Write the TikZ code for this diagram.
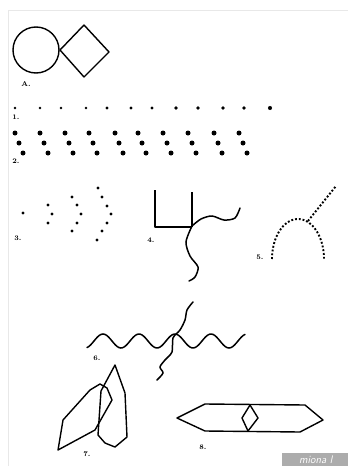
\documentclass[tikz,border=0pt]{standalone}
\usepackage{tikz}
\usetikzlibrary{positioning}

\begin{document}
\begin{tikzpicture}[
    x=1pt, y=-1pt,
    outline/.style={line width=1.4pt, line join=round},
    wavy/.style={line width=1.5pt, line cap=round, smooth},
    dotline/.style={line width=1.9pt, dash pattern=on 1.9pt off 1.9pt},
    tag/.style={font=\fontsize{7}{7}\selectfont\bfseries, inner sep=0pt},
    frame/.style={gray!18, line width=0.8pt},
]
\useasboundingbox (0,0) rectangle (348,466);

% Page edges
\draw[frame] (8,466) -- (8,10) -- (348,10);

% A: circle and diamond
\draw[outline] (36,50) circle (23);
\draw[outline] (60,50) -- (84,25) -- (109,52) -- (84,77) -- cycle;
\node[tag] (labA) at (26,84) {A.};

% 1: single row of dots
\foreach \px [count=\i] in {15,40,61,86,107,131,152,176,198,223,244,270}
  \fill (\px,108) circle ({1.2+0.07*\i});
\node[tag] (lab1) at (16,117) {1.};

% 2: slanted triples of dots
\foreach \px in {15,40,65,89,115,138,163,188,214,239} {
  \fill (\px,133) circle (2.5);
  \fill (\px+4,143) circle (2.5);
  \fill (\px+8,153) circle (2.5);
}
\node[tag] (lab2) at (16,161) {2.};

% 3: nested chevrons of dots
\foreach \pt in {(23,213), (48,205),(52,214),(48,223),
                 (72,197),(77,205),(81,214),(77,223),(72,231),
                 (98,188),(102,197),(107,206),(111,214),(107,223),(102,231),(97,240)}
  \fill \pt circle (1.7);
\node[tag] (lab3) at (18,238) {3.};

% 4: square corner with wavy lines
\draw[outline] (155,190) -- (155,227) -- (192,227);
\draw[outline] (192,192) -- (192,227);
\draw[wavy] plot coordinates {(192,226) (201,219) (212,216) (224,220) (235,218) (240,208)};
\draw[wavy] plot coordinates {(192,226) (186,242) (190,256) (198,267) (195,277) (189,281)};
\node[tag] (lab4) at (151,240) {4.};

% 5: dotted arch with branch
\draw[dotline] plot[smooth, domain=180:0, samples=40] ({298+26*cos(\x)}, {259-40*sin(\x)});
\draw[dotline] (308,221) -- (336,186);
\node[tag] (lab5) at (260,257) {5.};

% 6: crossing wavy lines
\draw[wavy] plot[domain=87:245, samples=90] (\x, {341-7*cos((\x-103)*10)});
\draw[wavy] plot coordinates {(193,302) (187,310) (185,320) (180,330) (173,338)
                              (172,352) (165,360) (160,367) (163,373) (157,380)};
\node[tag] (lab6) at (97,358) {6.};

% 7: overlapping polygons
\draw[outline] (58,450) -- (63,420) -- (90,390) -- (100,384) -- (107,388)
               -- (112,400) -- (95,430) -- cycle;
\draw[outline] (115,365) -- (125,393) -- (127,437) -- (115,447) -- (105,443)
               -- (98,435) -- (101,391) -- cycle;
\node[tag] (lab7) at (87,454) {7.};

% 8: long hexagon with diamond
\draw[outline] (177,418) -- (205,404) -- (305,405) -- (323,420) -- (300,432)
               -- (205,431) -- cycle;
\draw[outline] (250,405) -- (258,418) -- (248,431) -- (242,418) -- cycle;
\node[tag] (lab8) at (203,447) {8.};

% Watermark
\node[fill=gray!65, text=white, anchor=south east, inner sep=1pt,
      minimum width=68pt, minimum height=13pt,
      font=\sffamily\itshape\fontsize{11}{11}\selectfont] (mark) at (350,466) {miona l};

\end{tikzpicture}
\end{document}
